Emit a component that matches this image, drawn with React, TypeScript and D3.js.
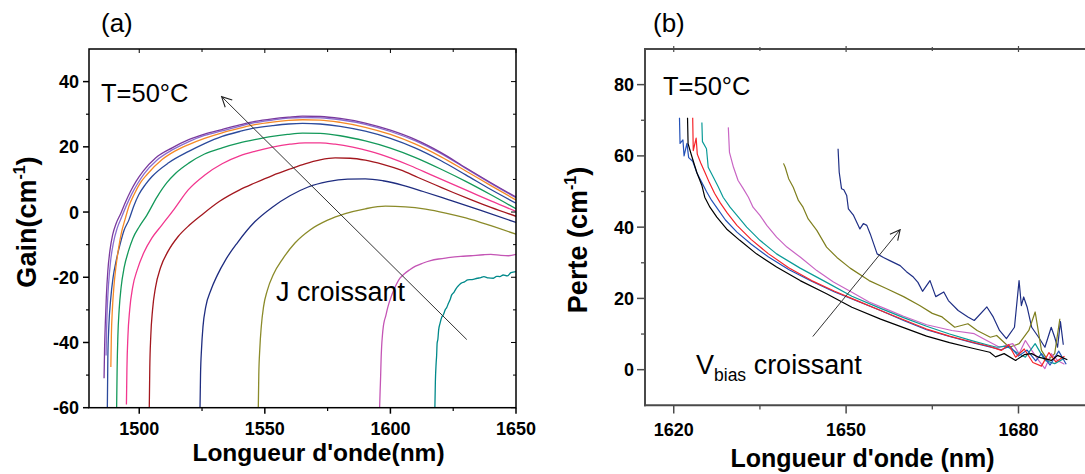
import React from 'react';
import * as d3 from 'd3';

type P = [number, number];

// ---------- Panel (a): Gain vs wavelength, T=50°C ----------
const aXTicks = [1500, 1550, 1600, 1650];
const aXMinor = [1525, 1575, 1625];
const aYTicks = [-60, -40, -20, 0, 20, 40];
const aYMinor = [-50, -30, -10, 10, 30];

const gainPurple: P[] = [[1486,-51],[1486.2,-42],[1486.5,-34],[1486.9,-26],[1487.5,-18],[1488.3,-12],[1489.4,-7],[1490.8,-3.5],[1492.6,-0.5],[1494.5,3],[1496.5,6.3],[1498.8,9.5],[1501.5,12.5],[1506.5,16.6],[1513.1,19.7],[1519.7,22.2],[1526,23.9],[1532.9,25.3],[1540,26.7],[1546.1,27.8],[1553,28.6],[1559.4,29.1],[1565,29.4],[1572,29.3],[1580,28.7],[1590,27.3],[1600,25.1],[1610,22.2],[1620,18.3],[1630,13.6],[1640,9],[1650,4.6]];
const gainViolet: P[] = [[1486.8,-44],[1487,-36],[1487.3,-29],[1487.8,-22],[1488.6,-15],[1489.7,-9.5],[1491.2,-5],[1493,-1.5],[1495,2.2],[1497,5.5],[1499.5,8.9],[1502,11.8],[1507,15.9],[1513.5,19.2],[1520,21.7],[1526,23.5],[1533,24.9],[1540,26.3],[1546,27.4],[1553,28.2],[1559.4,28.8],[1565,29.0],[1572,28.9],[1580,28.3],[1590,26.9],[1600,24.7],[1610,21.8],[1620,18],[1630,13.4],[1640,8.8],[1650,4.4]];
const gainOrange: P[] = [[1488.7,-47.5],[1488.9,-38],[1489.3,-30],[1489.9,-23],[1490.7,-17],[1491.8,-11],[1493,-6],[1494.3,-2.4],[1496,2],[1497.9,5.3],[1500.5,9],[1503.1,11.5],[1509.1,16.1],[1514,18.6],[1519.7,20.7],[1526,22.6],[1533,24.3],[1540,25.7],[1546,26.8],[1553,27.6],[1559.4,28.1],[1565,28.3],[1572,28.2],[1580,27.5],[1590,26],[1600,23.8],[1610,20.8],[1620,17],[1630,12.6],[1640,8.1],[1650,3.7]];
const gainBlue: P[] = [[1487.3,-60],[1487.5,-45],[1487.9,-35],[1488.6,-27],[1489.6,-20],[1490.8,-15],[1492.5,-9.5],[1494,-5.5],[1495.9,-2.4],[1497.8,1.8],[1499.8,5.3],[1502.5,8.5],[1505.1,10.9],[1511.7,15.1],[1519.7,18.6],[1526,21],[1533,23.2],[1540,24.7],[1546,25.8],[1553,26.5],[1559.4,27],[1565,27.2],[1572,27],[1580,26.3],[1590,24.8],[1600,22.6],[1610,19.6],[1620,15.8],[1630,11.4],[1640,6.9],[1650,2.7]];
const gainGreen: P[] = [[1491,-60],[1491.2,-48],[1491.5,-38],[1492,-30],[1492.8,-23],[1494,-17],[1495.7,-12],[1497.5,-8],[1500,-4.5],[1503,-1],[1507,4.5],[1511,9],[1514.5,11.9],[1519.7,15],[1526,17.8],[1533,19.7],[1540,21.2],[1546,22.2],[1553,23.2],[1559,23.8],[1565,24.2],[1572,24.1],[1580,23.4],[1590,21.8],[1600,19.6],[1610,16.7],[1620,13.2],[1630,9.4],[1640,5.3],[1650,1.0]];
const gainPink: P[] = [[1494.9,-59],[1495.1,-48],[1495.5,-38],[1496.2,-30],[1497.4,-23],[1499.3,-17.5],[1501.8,-12.5],[1505,-8],[1509,-4],[1514,1],[1519.5,6.8],[1526,11.3],[1533,14.8],[1540,17.2],[1546,18.6],[1553,19.9],[1560,20.8],[1566,21.2],[1572,21.2],[1578,20.8],[1585,19.9],[1592,18.6],[1600,16.6],[1608,14.2],[1616,11.5],[1624,8.8],[1632,6.1],[1640,3.4],[1650,0.2]];
const gainDarkRed: P[] = [[1504,-60],[1504.2,-48],[1504.6,-38],[1505.3,-30],[1506.5,-23],[1508.5,-17],[1511.5,-12],[1515.5,-7.5],[1520,-4],[1525,-0.8],[1532,3.3],[1540,6.8],[1546,8.9],[1553,11.2],[1560,13.2],[1566,14.8],[1572,16],[1578,16.6],[1584,16.5],[1590,15.9],[1597,14.6],[1604,12.9],[1611,10.6],[1618,8.3],[1625,6],[1632,3.8],[1640,1.4],[1650,-1.3]];
const gainNavy: P[] = [[1524.2,-60],[1524.4,-50],[1524.8,-42],[1525.4,-35],[1526.5,-29],[1528.5,-24],[1531,-19.5],[1534.5,-14.5],[1539,-9.5],[1546,-3],[1553,1.5],[1560,5],[1567,7.6],[1575,9.3],[1583,10.1],[1590,10.2],[1597,9.6],[1605,8.2],[1613,6.3],[1623,3.8],[1636,0.5],[1650,-3.2]];
const gainOlive: P[] = [[1547.4,-60],[1547.6,-50],[1548,-42],[1548.6,-35],[1549.5,-29],[1551,-24],[1553.5,-19],[1557,-14.5],[1562,-9.5],[1568,-5.5],[1575,-2.5],[1582,-0.5],[1590,1.0],[1598,1.8],[1606,1.6],[1614,0.9],[1622,-0.3],[1630,-1.8],[1640,-4.2],[1650,-6.8]];
const gainMagenta: P[] = [[1595.7,-60],[1595.9,-55],[1596.1,-50.5],[1596.3,-45],[1596.5,-41.3],[1596.8,-38],[1597.2,-35],[1597.6,-33.3],[1598.1,-32],[1598.7,-30],[1599.4,-28],[1600.3,-26],[1601.3,-24],[1602.5,-22],[1603.8,-20.3],[1605.6,-18.9],[1607.7,-17.7],[1610,-16.6],[1612.8,-15.7],[1616,-14.9],[1619.2,-14.4],[1623,-14],[1628,-13.6],[1632,-13.4],[1637,-13.1],[1640,-13],[1644,-13.3],[1647,-13.4],[1650,-13]];
const gainTeal: P[] = [[1617.7,-60],[1617.9,-52],[1618.2,-46.4],[1618.4,-44],[1618.6,-40.2],[1618.9,-39],[1619.2,-36.2],[1619.8,-34],[1620.5,-32.1],[1621.1,-31.5],[1621.8,-30],[1622.4,-29.3],[1623.1,-28],[1623.7,-27],[1624.4,-25.4],[1625.3,-24.6],[1626.3,-23.3],[1627.2,-22.5],[1628.2,-21.8],[1629.5,-21.4],[1630.8,-20.8],[1632.5,-20.7],[1634.6,-20.3],[1636,-20.1],[1637.2,-19.8],[1639,-20.2],[1641,-20.3],[1642.3,-19.7],[1643.6,-19.8],[1644.9,-19.3],[1646.5,-19.6],[1648,-18.6],[1650,-18.3]];

const gainSeries = [
  { data: gainTeal, color: '#00898a' },
  { data: gainMagenta, color: '#c455b5' },
  { data: gainOlive, color: '#8b8b2a' },
  { data: gainNavy, color: '#1f2d80' },
  { data: gainDarkRed, color: '#a3171e' },
  { data: gainPink, color: '#f2378f' },
  { data: gainGreen, color: '#14995a' },
  { data: gainBlue, color: '#2b4a9c' },
  { data: gainOrange, color: '#f58a26' },
  { data: gainViolet, color: '#8a6ccf' },
  { data: gainPurple, color: '#7a3a9e' },
];

// ---------- Panel (b): Loss vs wavelength ----------
const bXTicks = [1620, 1650, 1680];
const bXMinor = [1635, 1665];
const bYTicks = [0, 20, 40, 60, 80];
const bYMinor = [10, 30, 50, 70];

const lossBlack: P[] = [[1622.4,70.7],[1622.5,63.4],[1623.1,60.1],[1624,55.4],[1624.9,51.7],[1625.4,48.4],[1626.3,45.6],[1627.5,42.8],[1629.2,39.5],[1631.5,36.3],[1634.4,32.5],[1637.9,28.8],[1642,25],[1646.6,21.3],[1651,17.5],[1656,14.2],[1660,11.8],[1664,9.4],[1668,7.6],[1672,6],[1675,4.9],[1676,3.6],[1677.5,4.5],[1679.5,2.6],[1681,4.2],[1682.3,4.5],[1683.5,3.5],[1685.7,2.6],[1686.8,4],[1688.5,2.8]];
const lossRed: P[] = [[1623.3,70.7],[1623.4,61.5],[1623.9,65],[1624.1,60.5],[1624.7,58],[1625.4,55.5],[1626.2,52.5],[1627.1,49.5],[1628.1,46.8],[1629.3,44],[1631,40.5],[1633.5,36.5],[1636.5,32.5],[1640,28.6],[1644,25],[1648,22],[1652,19.3],[1656,16.6],[1660,14],[1664,11.4],[1668,9.4],[1672,7.7],[1675,6.5],[1677,5.4],[1678.3,7],[1679.5,3.5],[1681,5.8],[1682.5,2],[1684,1],[1685.3,4.8],[1686.5,2.2],[1688,3.8]];
const lossBlue: P[] = [[1621,70.7],[1621.1,63.5],[1621.6,64.5],[1621.8,60],[1622.3,63.5],[1622.6,59.5],[1623.3,58.5],[1624.1,55],[1624.9,52.5],[1625.7,50],[1626.6,47.5],[1627.7,45],[1629,42],[1631,38.6],[1633.5,35.2],[1636.5,31.6],[1640,28.1],[1644,24.8],[1648,21.8],[1652,19.2],[1656,16.6],[1660,13.8],[1664,11.2],[1668,9.3],[1672,7.6],[1675,6.4],[1677,5.6],[1678.5,6.6],[1680,3.8],[1681.5,5.5],[1683,2.5],[1684,4.5],[1685.5,1.3],[1687,5.2],[1688.3,1.5]];
const lossTeal: P[] = [[1624.9,69.4],[1625,64],[1625.7,62],[1626,56.8],[1626.9,54],[1627.7,51.5],[1628.6,48.4],[1629.8,45.6],[1631,43.3],[1632.7,40],[1635,36.3],[1637.9,32.5],[1642,28.5],[1646.6,24.5],[1651,20.6],[1656,17.2],[1660,14.6],[1664,12.2],[1668,10],[1672,8.1],[1674.5,7],[1676.2,6.3],[1677.9,6.6],[1679.5,5],[1681.2,3.5],[1682.9,7.3],[1684.6,2.6],[1686.3,1.7],[1688,3.2]];
const lossOrchid: P[] = [[1629.5,68],[1629.7,61],[1630.4,56.8],[1631.2,53.1],[1632.1,50.8],[1633,48.4],[1633.8,45.6],[1635,43.3],[1636.2,40.5],[1637.9,37.2],[1639.7,34.4],[1642,31.6],[1644.9,27.8],[1647.8,24.6],[1650.7,22],[1654,19],[1657,17],[1660,15],[1664,12.6],[1668.4,11],[1672.3,10.1],[1673.9,8.7],[1676.7,6.3],[1679,7.3],[1680.1,4.5],[1681.2,8.2],[1682.3,5.4],[1683.5,2.6],[1684.6,0.3],[1685.7,4.5],[1686.8,2.6],[1688,1.5]];
const lossOlive: P[] = [[1639.1,57.9],[1639.4,56.8],[1640,53.6],[1640.8,51.2],[1641.7,47.5],[1642.5,45.6],[1643.4,42.3],[1644.9,39.1],[1646.6,34.4],[1648.4,31.5],[1650.7,28.5],[1654,25],[1657,22.8],[1660,20.5],[1662.8,18],[1665,15.8],[1666.7,14.8],[1668.9,11.9],[1671.2,12.9],[1672.8,11],[1675.1,9.1],[1676.2,9.6],[1678.4,6.3],[1680.1,7.3],[1681.8,11],[1682.9,16.2],[1684,5.4],[1685.1,2.6],[1686.3,4.5],[1687.2,14.3]];
const lossNavy: P[] = [[1648.6,62],[1648.8,55.4],[1649.2,50.8],[1649.6,50.5],[1650.1,48.9],[1650.4,45.1],[1651.3,43.3],[1652.4,39.5],[1653,41],[1653.6,40.5],[1654.2,38.1],[1655.4,32.5],[1656.5,31.5],[1657.6,30.6],[1659.4,29.2],[1660.5,27.5],[1661.7,26],[1662.5,24.5],[1663.3,22],[1664.6,25],[1665.6,20.5],[1667,21.8],[1667.8,19.4],[1669.5,16.6],[1671.2,14.8],[1672.3,13.8],[1674.5,17.6],[1675.6,14.8],[1676.7,11],[1677.9,8.7],[1679.3,11.9],[1680.1,25],[1680.5,18],[1680.9,20.4],[1681.5,17.6],[1682.3,11.9],[1683.5,9.1],[1684.6,6.3],[1685.7,11.9],[1686.3,9.1],[1686.8,6.3],[1687.3,13.5],[1687.8,7]];

const lossSeries = [
  { data: lossNavy, color: '#1f2f85' },
  { data: lossOlive, color: '#7f7f1e' },
  { data: lossOrchid, color: '#c965c4' },
  { data: lossTeal, color: '#0a9b98' },
  { data: lossBlue, color: '#2452b8' },
  { data: lossRed, color: '#f5242a' },
  { data: lossBlack, color: '#000000' },
];

// arrows (data coordinates): [start, end]
const arrowA: P[] = [[1630.4, -39.1], [1532.8, 35.4]];
const arrowB: P[] = [[1644.2, 9.3], [1659.4, 39.3]];

const FONT = "'Liberation Sans', Arial, Helvetica, sans-serif";

export default function App() {
  // Panel (a) scales
  const xA = d3.scaleLinear().domain([1480, 1650]).range([89, 516]);
  const yA = d3.scaleLinear().domain([-60, 50]).range([407.7, 49]);
  // Panel (b) scales
  const xB = d3.scaleLinear().domain([1615, 1692]).range([645, 645 + 77 * 5.746]);
  const yB = d3.scaleLinear().domain([-10, 90]).range([405.3, 49]);

  const lineA = d3.line<P>().x(d => xA(d[0])).y(d => yA(d[1])).curve(d3.curveMonotoneX);
  const lineB = d3.line<P>().x(d => xB(d[0])).y(d => yB(d[1])).curve(d3.curveLinear);

  const axisGray = '#4a4a4a';

  return (
    <svg width={1085} height={474} style={{ position: 'absolute', left: 0, top: 0, background: '#fff' }}
      fontFamily={FONT}>
      <defs>
        <clipPath id="clipA"><rect x={89} y={49} width={427} height={358.7} /></clipPath>
        <clipPath id="clipB"><rect x={645} y={49} width={445} height={356.3} /></clipPath>
        <marker id="arrowHead" viewBox="0 0 12 12" refX="11" refY="6" markerWidth="12" markerHeight="12"
          markerUnits="userSpaceOnUse" orient="auto">
          <path d="M1,1 L11,6 L1,11" fill="none" stroke="#222" strokeWidth={1.1} />
        </marker>
      </defs>
      <rect x={0} y={0} width={1085} height={474} fill="#fff" />

      {/* ================= Panel (a) ================= */}
      <text x={101} y={31.5} fontSize={26}>(a)</text>
      <g clipPath="url(#clipA)">
        {gainSeries.map((s, i) => (
          <path key={i} d={lineA(s.data) || ''} fill="none" stroke={s.color} strokeWidth={1.3} />
        ))}
      </g>
      <rect x={89} y={49} width={427} height={358.7} fill="none" stroke="#000" strokeWidth={1.5} />
      {aYTicks.map(t => (
        <g key={'ay' + t}>
          <line x1={83} x2={89} y1={yA(t)} y2={yA(t)} stroke="#000" strokeWidth={1.5} />
          <line x1={516} x2={511} y1={yA(t)} y2={yA(t)} stroke="#000" strokeWidth={1} />
          <text x={79} y={yA(t)} dy="0.36em" textAnchor="end" fontSize={18} fontWeight="bold">{t}</text>
        </g>
      ))}
      {aYMinor.map(t => (
        <g key={'aym' + t}>
          <line x1={86} x2={89} y1={yA(t)} y2={yA(t)} stroke="#000" strokeWidth={1.2} />
          <line x1={516} x2={513} y1={yA(t)} y2={yA(t)} stroke="#000" strokeWidth={1} />
        </g>
      ))}
      {aXTicks.map(t => (
        <g key={'ax' + t}>
          <line x1={xA(t)} x2={xA(t)} y1={407.7} y2={413.7} stroke="#000" strokeWidth={1.5} />
          <line x1={xA(t)} x2={xA(t)} y1={49} y2={53} stroke="#000" strokeWidth={1} />
          <text x={xA(t)} y={434.5} textAnchor="middle" fontSize={18} fontWeight="bold">{t}</text>
        </g>
      ))}
      {aXMinor.map(t => (
        <g key={'axm' + t}>
          <line x1={xA(t)} x2={xA(t)} y1={407.7} y2={411} stroke="#000" strokeWidth={1.2} />
          <line x1={xA(t)} x2={xA(t)} y1={49} y2={52} stroke="#000" strokeWidth={1} />
        </g>
      ))}
      <text x={318.5} y={460.5} textAnchor="middle" fontSize={24.5} fontWeight="bold">Longueur d'onde(nm)</text>
      <text transform="translate(36,222) rotate(-90)" textAnchor="middle" fontSize={27} fontWeight="bold">
        Gain(cm<tspan fontSize={16} dy={-11}>-1</tspan><tspan dy={11}>)</tspan>
      </text>
      <text x={101} y={102} fontSize={25.5}>T=50°C</text>
      <text x={276} y={300.5} fontSize={27}>J croissant</text>
      <line x1={xA(arrowA[0][0])} y1={yA(arrowA[0][1])} x2={xA(arrowA[1][0])} y2={yA(arrowA[1][1])}
        stroke="#333" strokeWidth={1} markerEnd="url(#arrowHead)" />

      {/* ================= Panel (b) ================= */}
      <text x={653} y={31.5} fontSize={26}>(b)</text>
      <g clipPath="url(#clipB)">
        {lossSeries.map((s, i) => (
          <path key={i} d={lineB(s.data) || ''} fill="none" stroke={s.color} strokeWidth={1.2} strokeLinejoin="round" />
        ))}
      </g>
      <line x1={645} x2={1090} y1={49} y2={49} stroke={axisGray} strokeWidth={2} />
      <line x1={645} x2={645} y1={48} y2={406.3} stroke={axisGray} strokeWidth={2} />
      <line x1={644} x2={1090} y1={405.3} y2={405.3} stroke={axisGray} strokeWidth={2} />
      {bYTicks.map(t => (
        <g key={'by' + t}>
          <line x1={637} x2={645} y1={yB(t)} y2={yB(t)} stroke={axisGray} strokeWidth={1.5} />
          <text x={634} y={yB(t)} dy="0.36em" textAnchor="end" fontSize={18} fontWeight="bold">{t}</text>
        </g>
      ))}
      {bYMinor.map(t => (
        <line key={'bym' + t} x1={641} x2={645} y1={yB(t)} y2={yB(t)} stroke={axisGray} strokeWidth={1.3} />
      ))}
      {bXTicks.map(t => (
        <g key={'bx' + t}>
          <line x1={xB(t)} x2={xB(t)} y1={405.3} y2={413.5} stroke={axisGray} strokeWidth={1.5} />
          <line x1={xB(t)} x2={xB(t)} y1={46} y2={52} stroke={axisGray} strokeWidth={1.2} />
          <text x={xB(t)} y={435.5} textAnchor="middle" fontSize={18} fontWeight="bold">{t}</text>
        </g>
      ))}
      {bXMinor.map(t => (
        <g key={'bxm' + t}>
          <line x1={xB(t)} x2={xB(t)} y1={405.3} y2={409.5} stroke={axisGray} strokeWidth={1.3} />
          <line x1={xB(t)} x2={xB(t)} y1={47} y2={51} stroke={axisGray} strokeWidth={1.2} />
        </g>
      ))}
      <text x={862.5} y={466.5} textAnchor="middle" fontSize={25} fontWeight="bold">Longueur d'onde (nm)</text>
      <text transform="translate(587,240) rotate(-90)" textAnchor="middle" fontSize={27} fontWeight="bold">
        Perte (cm<tspan fontSize={16} dy={-11}>-1</tspan><tspan dy={11}>)</tspan>
      </text>
      <text x={663} y={95} fontSize={25.5}>T=50°C</text>
      <text x={696} y={374} fontSize={27}>
        V<tspan fontSize={17.5} dy={7}>bias</tspan><tspan dy={-7}> croissant</tspan>
      </text>
      <line x1={xB(arrowB[0][0])} y1={yB(arrowB[0][1])} x2={xB(arrowB[1][0])} y2={yB(arrowB[1][1])}
        stroke="#333" strokeWidth={1} markerEnd="url(#arrowHead)" />
    </svg>
  );
}
